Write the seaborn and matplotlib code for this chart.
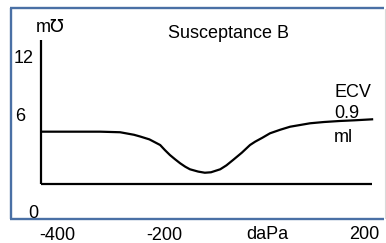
import matplotlib
matplotlib.use('Agg')
import matplotlib.pyplot as plt
from matplotlib.lines import Line2D
import pandas as pd
import seaborn as sns

# tympanogram, susceptance B (mmho) against pressure (daPa)
pressure = [-430, -355, -316, -277, -250, -238, -220, -199, -190, -180,
            -170, -160, -150, -141, -125, -112, -100, -82, -70, -57,
            -40, -24, -14, 0, 15, 35, 54, 93, 120, 151, 180, 216]
susceptance = [4.55, 4.55, 4.55, 4.50, 4.28, 4.13, 3.88, 3.39, 2.96, 2.52,
               2.15, 1.80, 1.50, 1.28, 1.08, 0.98, 1.02, 1.28, 1.62, 2.09,
               2.72, 3.39, 3.68, 4.02, 4.41, 4.72, 4.98, 5.28, 5.39, 5.48, 5.54, 5.63]
y_tick_labels = ['12', '6', '0']
x_tick_labels = ['-400', '-200', 'daPa', '200']

df = pd.DataFrame({'pressure': pressure, 'B': susceptance})

sns.set_style('white')
plt.rcParams['font.family'] = ['Liberation Sans', 'DejaVu Sans']

W, H = 386, 243
fig = plt.figure(figsize=(W / 100, H / 100), dpi=100)
ax = fig.add_axes([0, 0, 1, 1])
ax.set_xlim(-511.05, 240.95)
ax.set_ylim(-5.13, 16.0)
ax.axis('off')

sns.lineplot(data=df, x='pressure', y='B', ax=ax, color='black',
             linewidth=1.6, estimator=None, sort=False,
             solid_joinstyle='round', solid_capstyle='butt')

# hand drawn axes
ax.plot([-431, -431], [0, 12.52], color='black', lw=1.6, solid_capstyle='butt')
ax.plot([-431, 213.7], [0, 0], color='black', lw=1.6, solid_capstyle='butt')


def fx(x):
    return x / W


def fy(y):
    return 1 - y / H


# frame
blue = '#4a70a5'
for xs, ys in [([10, 384], [8, 8]), ([10.5, 10.5], [8, 218.5]), ([10, 384], [218.5, 218.5])]:
    fig.add_artist(Line2D([fx(v) for v in xs], [fy(v) for v in ys], color=blue,
                          lw=1.7, solid_capstyle='butt'))
fig.add_artist(Line2D([fx(385), fx(385)], [fy(9), fy(218)], color='#d9d9d9', lw=0.8))

fs = 13
def label(x, y, s, ha='center'):
    fig.text(fx(x), fy(y), s, ha=ha, va='baseline', fontsize=fs, color='black')

label(50, 32, 'm\u2127')
label(228.5, 38, 'Susceptance B')
for s, (x, y) in zip(y_tick_labels, [(24, 63), (20, 121), (33, 218)]):
    label(x, y, s)
for s, (x, y) in zip(x_tick_labels, [(57, 240), (164.5, 240), (267.5, 239), (364, 239)]):
    label(x, y, s)
label(352.5, 97, 'ECV')
label(346.5, 118, '0.9')
label(343, 142, 'ml')

fig.savefig('out.png', dpi=100)
